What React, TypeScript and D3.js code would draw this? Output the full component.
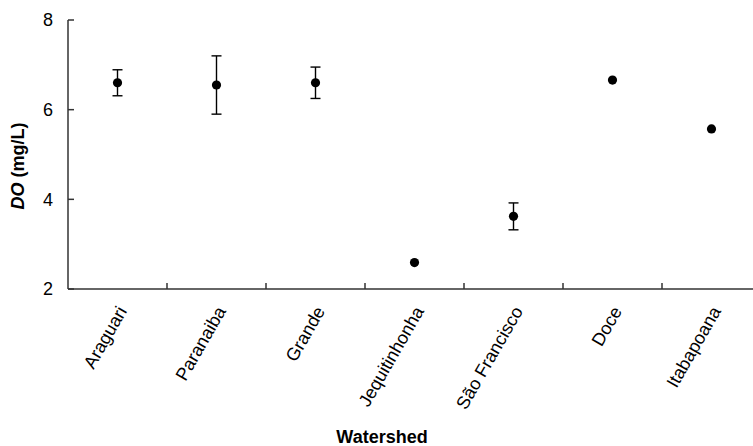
import React from "react";
import * as d3 from "d3";

const categories = ["Araguari", "Paranaiba", "Grande", "Jequitinhonha", "São Francisco", "Doce", "Itabapoana"];
const means = [6.6, 6.55, 6.6, 2.59, 3.62, 6.66, 5.57];
const errors = [0.29, 0.65, 0.35, 0, 0.3, 0, 0];
const yTicks = [2, 4, 6, 8];

const W = 753;
const H = 446;
const FONT = "'Liberation Sans', Arial, sans-serif";

export default function App() {
  const x = d3.scaleBand<string>().domain(categories).range([68, 761]).padding(0);
  const y = d3.scaleLinear().domain([2, 8]).range([289, 20]);
  const bw = x.bandwidth();
  const x0 = 68;
  const yBase = y(2);

  return (
    <svg width={W} height={H} style={{ position: "absolute", left: 0, top: 0, background: "#fff" }} fontFamily={FONT}>
      {/* axes */}
      <line x1={x0} x2={W} y1={yBase} y2={yBase} stroke="#333" strokeWidth={1.5} />
      <line x1={x0} x2={x0} y1={y(8)} y2={yBase} stroke="#333" strokeWidth={1.5} />
      {yTicks.map((t) => (
        <g key={t}>
          <line x1={x0} x2={x0 + 6} y1={y(t)} y2={y(t)} stroke="#333" strokeWidth={1.5} />
          <text x={53} y={y(t)} dy="0.36em" textAnchor="end" fontSize={18} fill="#000">
            {t}
          </text>
        </g>
      ))}
      {categories.map((c, i) =>
        i === 0 ? null : (
          <line key={"t" + c} x1={x(c)!} x2={x(c)!} y1={yBase} y2={yBase - 6} stroke="#333" strokeWidth={1.5} />
        )
      )}
      {/* x labels */}
      {categories.map((c) => {
        const cx = x(c)! + bw / 2 + 10;
        const cy = 311;
        return (
          <text key={"l" + c} x={cx} y={cy} textAnchor="end" fontSize={18} fill="#000" transform={`rotate(-60 ${cx} ${cy})`}>
            {c}
          </text>
        );
      })}
      {/* error bars and points */}
      {categories.map((c, i) => {
        const cx = x(c)! + bw / 2;
        const m = means[i];
        const e = errors[i];
        return (
          <g key={"p" + c}>
            {e > 0 && (
              <g stroke="#000" strokeWidth={1.4}>
                <line x1={cx} x2={cx} y1={y(m + e)} y2={y(m - e)} />
                <line x1={cx - 5} x2={cx + 5} y1={y(m + e)} y2={y(m + e)} />
                <line x1={cx - 5} x2={cx + 5} y1={y(m - e)} y2={y(m - e)} />
              </g>
            )}
            <circle cx={cx} cy={y(m)} r={4.6} fill="#000" />
          </g>
        );
      })}
      {/* axis titles */}
      <text transform="translate(23.5,166) rotate(-90)" textAnchor="middle" fontSize={18} fontWeight="bold" fill="#000">
        <tspan fontStyle="italic">DO</tspan>
        <tspan> (mg/L)</tspan>
      </text>
      <text x={382} y={443} textAnchor="middle" fontSize={18} fontWeight="bold" fill="#000">
        Watershed
      </text>
    </svg>
  );
}
